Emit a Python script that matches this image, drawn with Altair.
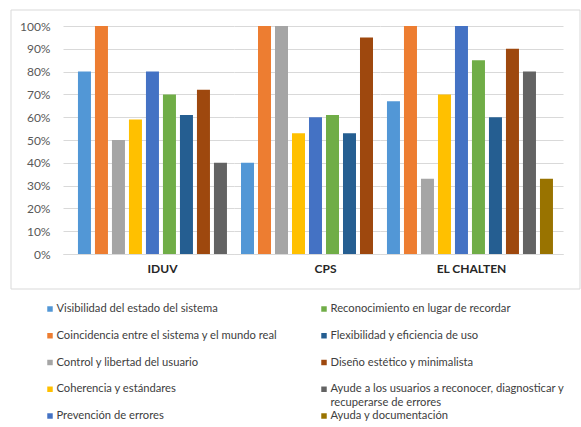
import altair as alt
import pandas as pd

groups = ["IDUV", "CPS", "EL CHALTEN"]
series = [
    "Visibilidad del estado del sistema",
    "Coincidencia entre el sistema y el mundo real",
    "Control y libertad del usuario",
    "Coherencia y estándares",
    "Prevención de errores",
    "Reconocimiento en lugar de recordar",
    "Flexibilidad y eficiencia de uso",
    "Diseño estético y minimalista",
    "Ayude a los usuarios a reconocer, diagnosticar y recuperarse de errores",
    "Ayuda y documentación",
]
legend_labels = [
    "Visibilidad del estado del sistema",
    "Coincidencia entre el sistema y el mundo real",
    "Control y libertad del usuario",
    "Coherencia y estándares",
    "Prevención de errores",
    "Reconocimiento en lugar de recordar",
    "Flexibilidad y eficiencia de uso",
    "Diseño estético y minimalista",
    "Ayude a los usuarios a reconocer, diagnosticar y\nrecuperarse de errores",
    "Ayuda y documentación",
]
colors = ["#5297D6", "#ED7D31", "#A5A5A5", "#FFC000", "#4472C4",
          "#70AD47", "#255E91", "#9E480E", "#636363", "#997300"]

iduv = [0.80, 1.00, 0.50, 0.59, 0.80, 0.70, 0.61, 0.72, 0.40, None]
cps = [0.40, 1.00, 1.00, 0.53, 0.60, 0.61, 0.53, 0.95, None, None]
chalten = [0.67, 1.00, 0.33, 0.70, 1.00, 0.85, 0.60, 0.90, 0.80, 0.33]

y_ticks = [0.0, 0.1, 0.2, 0.3, 0.4, 0.5, 0.6, 0.7, 0.8, 0.9, 1.0]

values_by_group = {"IDUV": iduv, "CPS": cps, "EL CHALTEN": chalten}
rows = []
for g in groups:
    for s, v in zip(series, values_by_group[g]):
        if v is not None:
            rows.append({"grupo": g, "serie": s, "valor": v})
df = pd.DataFrame(rows)

leg = pd.DataFrame({
    "serie": series,
    "label": legend_labels,
    "col": [i // 5 for i in range(len(series))],
    "row": [i % 5 for i in range(len(series))],
})

FONT = "Lato"
GRID = "#d9d9d9"
PLOT_H = 228
color_scale = alt.Scale(domain=series, range=colors)

# per panel layout: width, paddingOuter, align, titleX
layout = {
    "IDUV": (171, 0.647, 0.68, 99),
    "CPS": (146, 0.412, 0.5, 91),
    "EL CHALTEN": (183, 0.5, 0.41, 91),
}


def bars_for(g, first):
    w, po, al, tx = layout[g]
    sub = df[df.grupo == g]
    yaxis = alt.Axis(format=".0%", values=y_ticks, grid=True, gridColor=GRID,
                     domain=False, ticks=False, labels=first, labelPadding=13,
                     labelFontSize=12, labelColor="#595959", labelFont=FONT,
                     title=None)
    xaxis = alt.Axis(labels=False, ticks=False, domainColor=GRID, title=g,
                     titleFont=FONT, titleFontSize=12, titleFontWeight="bold",
                     titleColor="#262626", titlePadding=9, titleX=tx)
    return alt.Chart(sub).mark_bar().encode(
        x=alt.X("serie:N", sort=series,
                scale=alt.Scale(paddingInner=0.235, paddingOuter=po, align=al),
                axis=xaxis),
        y=alt.Y("valor:Q", scale=alt.Scale(domain=[0, 1], nice=False), axis=yaxis),
        color=alt.Color("serie:N", scale=color_scale, legend=None),
    ), w


b1, w1 = bars_for("IDUV", True)
b2, w2 = bars_for("CPS", False)
b3, w3 = bars_for("EL CHALTEN", False)

frame = alt.Chart(pd.DataFrame({"k": [0]})).mark_rect(
    fillOpacity=0, stroke=GRID, strokeWidth=1
).encode(
    x=alt.value(-52), x2=alt.value(517),
    y=alt.value(-16), y2=alt.value(PLOT_H + 35),
)

leg_x = alt.X("col:Q", scale=alt.Scale(domain=[0, 1], range=[-13, 261]), axis=None)
leg_y = alt.Y("row:Q", scale=alt.Scale(domain=[0, 4], range=[283, 390]), axis=None)

leg_sq = alt.Chart(leg).mark_square(size=30, opacity=1).encode(
    x=leg_x, y=leg_y,
    color=alt.Color("serie:N", scale=color_scale, legend=None),
)
leg_txt = alt.Chart(leg).mark_text(
    align="left", baseline="top", dx=6.5, dy=-6, fontSize=11.2, font=FONT,
    color="#404040", lineBreak="\n", lineHeight=14,
).encode(x=leg_x, y=leg_y, text="label:N")

p1 = alt.layer(frame, b1, leg_sq, leg_txt).resolve_scale(
    x="independent", y="independent"
).properties(width=w1, height=PLOT_H)
p2 = b2.properties(width=w2, height=PLOT_H)
p3 = b3.properties(width=w3, height=PLOT_H)

chart = alt.hconcat(p1, p2, p3, spacing=0, bounds="flush").resolve_scale(
    x="independent", y="independent"
).properties(
    padding={"left": 10, "top": 9, "right": 0, "bottom": 0},
    background="white",
).configure_view(strokeWidth=0)

chart.save("out.html", embed_options={"renderer": "svg", "actions": False})
